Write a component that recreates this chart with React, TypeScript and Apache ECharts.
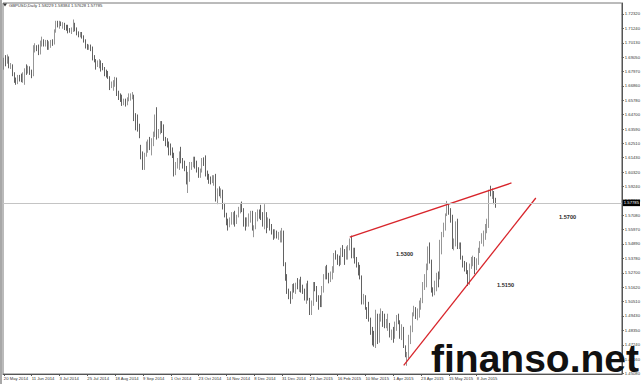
import React, { useEffect, useRef } from 'react';
import * as echarts from 'echarts';

const W = 643;
const H = 384;
const FONT = '"Liberation Sans", Arial, sans-serif';

// GBPUSD daily bars, one list per month: [day, open, close, low, high]
const MAY_2014 = [
  [20, 1.6835, 1.6880, 1.6810, 1.6900], [21, 1.6880, 1.6870, 1.6835, 1.6920], [22, 1.6870, 1.6900, 1.6855, 1.6925],
  [23, 1.6900, 1.6835, 1.6820, 1.6910], [26, 1.6835, 1.6840, 1.6815, 1.6860], [27, 1.6840, 1.6780, 1.6760, 1.6850],
  [28, 1.6780, 1.6730, 1.6710, 1.6790], [29, 1.6730, 1.6720, 1.6695, 1.6750], [30, 1.6720, 1.6750, 1.6700, 1.6770],
];
const JUN_2014 = [
  [2, 1.6750, 1.6740, 1.6720, 1.6770], [3, 1.6740, 1.6730, 1.6715, 1.6780], [4, 1.6730, 1.6770, 1.6710, 1.6790],
  [5, 1.6770, 1.6805, 1.6695, 1.6820], [6, 1.6805, 1.6790, 1.6770, 1.6850], [9, 1.6790, 1.6820, 1.6780, 1.6840],
  [10, 1.6820, 1.6780, 1.6770, 1.6835], [11, 1.6780, 1.6770, 1.6745, 1.6810], [12, 1.6770, 1.6970, 1.6760, 1.6995],
  [13, 1.6970, 1.6975, 1.6940, 1.7010], [16, 1.6975, 1.6970, 1.6950, 1.6995], [17, 1.6970, 1.6965, 1.6920, 1.7000],
  [18, 1.6965, 1.7010, 1.6925, 1.7030], [19, 1.7010, 1.7020, 1.6985, 1.7060], [20, 1.7020, 1.7005, 1.6985, 1.7040],
  [23, 1.7005, 1.7020, 1.6985, 1.7035], [24, 1.7020, 1.6990, 1.6960, 1.7035], [25, 1.6990, 1.6990, 1.6960, 1.7025],
  [26, 1.6990, 1.7020, 1.6975, 1.7035], [27, 1.7020, 1.7010, 1.6990, 1.7040], [30, 1.7010, 1.7105, 1.7000, 1.7115],
];
const JUL_2014 = [
  [1, 1.7105, 1.7160, 1.7090, 1.7180], [2, 1.7160, 1.7150, 1.7130, 1.7180], [3, 1.7150, 1.7160, 1.7120, 1.7180],
  [4, 1.7160, 1.7155, 1.7140, 1.7175], [7, 1.7155, 1.7155, 1.7120, 1.7170], [8, 1.7155, 1.7140, 1.7110, 1.7165],
  [9, 1.7140, 1.7130, 1.7105, 1.7150], [10, 1.7130, 1.7115, 1.7085, 1.7150], [11, 1.7115, 1.7110, 1.7090, 1.7125],
  [14, 1.7110, 1.7110, 1.7080, 1.7130], [15, 1.7110, 1.7135, 1.7095, 1.7190], [16, 1.7135, 1.7115, 1.7100, 1.7165],
  [17, 1.7115, 1.7090, 1.7070, 1.7130], [18, 1.7090, 1.7080, 1.7055, 1.7100], [21, 1.7080, 1.7080, 1.7055, 1.7095],
  [22, 1.7080, 1.7060, 1.7045, 1.7095], [23, 1.7060, 1.7030, 1.7015, 1.7070], [24, 1.7030, 1.6985, 1.6970, 1.7040],
  [25, 1.6985, 1.6975, 1.6960, 1.7005], [28, 1.6975, 1.6985, 1.6960, 1.7000], [29, 1.6985, 1.6970, 1.6950, 1.7000],
  [30, 1.6970, 1.6905, 1.6880, 1.6985], [31, 1.6905, 1.6880, 1.6865, 1.6920],
];
const AUG_2014 = [
  [1, 1.6880, 1.6835, 1.6810, 1.6890], [4, 1.6835, 1.6865, 1.6830, 1.6880], [5, 1.6865, 1.6875, 1.6820, 1.6890],
  [6, 1.6875, 1.6845, 1.6795, 1.6880], [7, 1.6845, 1.6820, 1.6805, 1.6860], [8, 1.6820, 1.6780, 1.6760, 1.6830],
  [11, 1.6780, 1.6770, 1.6750, 1.6810], [12, 1.6770, 1.6750, 1.6740, 1.6800], [13, 1.6750, 1.6680, 1.6655, 1.6760],
  [14, 1.6680, 1.6700, 1.6670, 1.6720], [15, 1.6700, 1.6700, 1.6650, 1.6730], [18, 1.6700, 1.6740, 1.6680, 1.6755],
  [19, 1.6740, 1.6630, 1.6610, 1.6750], [20, 1.6630, 1.6605, 1.6580, 1.6650], [21, 1.6605, 1.6600, 1.6565, 1.6630],
  [22, 1.6600, 1.6560, 1.6535, 1.6620], [25, 1.6560, 1.6570, 1.6540, 1.6590], [26, 1.6570, 1.6555, 1.6530, 1.6590],
  [27, 1.6555, 1.6585, 1.6540, 1.6600], [28, 1.6585, 1.6600, 1.6570, 1.6630], [29, 1.6600, 1.6600, 1.6575, 1.6630],
];
const SEP_2014 = [
  [1, 1.6600, 1.6605, 1.6585, 1.6640], [2, 1.6605, 1.6440, 1.6420, 1.6620], [3, 1.6440, 1.6430, 1.6350, 1.6480],
  [4, 1.6430, 1.6365, 1.6340, 1.6470], [5, 1.6365, 1.6310, 1.6290, 1.6400], [8, 1.6180, 1.6160, 1.6130, 1.6240],
  [9, 1.6160, 1.6110, 1.6050, 1.6190], [10, 1.6110, 1.6160, 1.6050, 1.6180], [11, 1.6160, 1.6240, 1.6150, 1.6265],
  [12, 1.6240, 1.6270, 1.6180, 1.6280], [15, 1.6270, 1.6240, 1.6200, 1.6300], [16, 1.6240, 1.6270, 1.6160, 1.6290],
  [17, 1.6270, 1.6320, 1.6230, 1.6340], [18, 1.6320, 1.6390, 1.6300, 1.6470], [19, 1.6390, 1.6300, 1.6280, 1.6525],
  [22, 1.6300, 1.6340, 1.6290, 1.6360], [23, 1.6340, 1.6405, 1.6320, 1.6420], [24, 1.6405, 1.6385, 1.6330, 1.6420],
  [25, 1.6385, 1.6285, 1.6270, 1.6395], [26, 1.6285, 1.6260, 1.6230, 1.6300], [29, 1.6260, 1.6240, 1.6220, 1.6290],
  [30, 1.6240, 1.6210, 1.6160, 1.6265],
];
const OCT_2014 = [
  [1, 1.6210, 1.6190, 1.6160, 1.6250], [2, 1.6190, 1.6160, 1.6140, 1.6220], [3, 1.6160, 1.6020, 1.6000, 1.6180],
  [6, 1.6020, 1.6090, 1.6010, 1.6110], [7, 1.6090, 1.6110, 1.6060, 1.6140], [8, 1.6110, 1.6170, 1.6050, 1.6190],
  [9, 1.6170, 1.6120, 1.6100, 1.6225], [10, 1.6120, 1.6090, 1.6060, 1.6140], [13, 1.6090, 1.6070, 1.6040, 1.6120],
  [14, 1.6070, 1.5970, 1.5940, 1.6080], [15, 1.5970, 1.5970, 1.5875, 1.6035], [16, 1.5970, 1.6080, 1.5960, 1.6110],
  [17, 1.6080, 1.6090, 1.6050, 1.6110], [20, 1.6090, 1.6130, 1.6070, 1.6150], [21, 1.6130, 1.6085, 1.6060, 1.6150],
  [22, 1.6085, 1.6060, 1.6030, 1.6120], [23, 1.6060, 1.6005, 1.5990, 1.6070], [24, 1.6005, 1.6040, 1.5990, 1.6060],
  [27, 1.6040, 1.6125, 1.6030, 1.6140], [28, 1.6125, 1.6120, 1.6080, 1.6145], [29, 1.6120, 1.6020, 1.6000, 1.6160],
  [30, 1.6020, 1.6000, 1.5975, 1.6045], [31, 1.6000, 1.5990, 1.5945, 1.6020],
];
const NOV_2014 = [
  [3, 1.5990, 1.5960, 1.5940, 1.6000], [4, 1.5960, 1.5990, 1.5950, 1.6010], [5, 1.5990, 1.5990, 1.5930, 1.6010],
  [6, 1.5990, 1.5825, 1.5810, 1.6020], [7, 1.5825, 1.5900, 1.5790, 1.5910], [10, 1.5900, 1.5860, 1.5850, 1.5925],
  [11, 1.5860, 1.5900, 1.5835, 1.5910], [12, 1.5900, 1.5780, 1.5750, 1.5900], [13, 1.5780, 1.5705, 1.5690, 1.5800],
  [14, 1.5705, 1.5650, 1.5630, 1.5725], [17, 1.5650, 1.5640, 1.5590, 1.5680], [18, 1.5640, 1.5655, 1.5615, 1.5690],
  [19, 1.5655, 1.5710, 1.5635, 1.5730], [20, 1.5710, 1.5720, 1.5635, 1.5730], [21, 1.5720, 1.5650, 1.5620, 1.5740],
  [24, 1.5650, 1.5700, 1.5640, 1.5710], [25, 1.5700, 1.5760, 1.5690, 1.5770], [26, 1.5760, 1.5790, 1.5720, 1.5800],
  [27, 1.5790, 1.5750, 1.5730, 1.5810], [28, 1.5750, 1.5640, 1.5620, 1.5760],
];
const DEC_2014 = [
  [1, 1.5640, 1.5630, 1.5590, 1.5690], [2, 1.5630, 1.5660, 1.5620, 1.5690], [3, 1.5660, 1.5700, 1.5620, 1.5720],
  [4, 1.5700, 1.5710, 1.5650, 1.5740], [5, 1.5710, 1.5590, 1.5590, 1.5740], [8, 1.5590, 1.5610, 1.5540, 1.5630],
  [9, 1.5610, 1.5690, 1.5600, 1.5730], [10, 1.5690, 1.5720, 1.5660, 1.5750], [11, 1.5720, 1.5710, 1.5680, 1.5750],
  [12, 1.5710, 1.5700, 1.5670, 1.5785], [15, 1.5700, 1.5640, 1.5620, 1.5730], [16, 1.5640, 1.5720, 1.5600, 1.5790],
  [17, 1.5720, 1.5620, 1.5570, 1.5730], [18, 1.5620, 1.5660, 1.5610, 1.5690], [19, 1.5660, 1.5630, 1.5590, 1.5680],
  [22, 1.5630, 1.5580, 1.5560, 1.5640], [23, 1.5580, 1.5550, 1.5520, 1.5600], [24, 1.5550, 1.5580, 1.5530, 1.5600],
  [26, 1.5580, 1.5540, 1.5530, 1.5590], [29, 1.5540, 1.5550, 1.5520, 1.5580], [30, 1.5550, 1.5550, 1.5500, 1.5590],
  [31, 1.5550, 1.5575, 1.5500, 1.5610],
];
const JAN_2015 = [
  [2, 1.5575, 1.5330, 1.5320, 1.5590], [5, 1.5330, 1.5230, 1.5210, 1.5350], [6, 1.5230, 1.5130, 1.5110, 1.5260],
  [7, 1.5130, 1.5090, 1.5070, 1.5150], [8, 1.5090, 1.5085, 1.5035, 1.5130], [9, 1.5085, 1.5160, 1.5070, 1.5185],
  [12, 1.5160, 1.5140, 1.5120, 1.5190], [13, 1.5140, 1.5180, 1.5110, 1.5195], [14, 1.5180, 1.5170, 1.5145, 1.5230],
  [15, 1.5170, 1.5200, 1.5125, 1.5220], [16, 1.5200, 1.5150, 1.5120, 1.5240], [19, 1.5150, 1.5140, 1.5110, 1.5180],
  [20, 1.5140, 1.5090, 1.5060, 1.5150], [21, 1.5090, 1.5180, 1.5035, 1.5190], [22, 1.5180, 1.5070, 1.5060, 1.5210],
  [23, 1.5070, 1.4960, 1.4950, 1.5080], [26, 1.4960, 1.5030, 1.4950, 1.5060], [27, 1.5030, 1.5170, 1.5020, 1.5200],
  [28, 1.5170, 1.5150, 1.5130, 1.5200], [29, 1.5150, 1.5080, 1.5050, 1.5170], [30, 1.5080, 1.5060, 1.4990, 1.5100],
];
const FEB_2015 = [
  [2, 1.5060, 1.5030, 1.5010, 1.5100], [3, 1.5030, 1.5150, 1.5010, 1.5170], [4, 1.5150, 1.5240, 1.5120, 1.5260],
  [5, 1.5240, 1.5300, 1.5220, 1.5320], [6, 1.5300, 1.5240, 1.5220, 1.5330], [9, 1.5240, 1.5230, 1.5190, 1.5270],
  [10, 1.5230, 1.5250, 1.5200, 1.5280], [11, 1.5250, 1.5300, 1.5220, 1.5320], [12, 1.5300, 1.5400, 1.5270, 1.5420],
  [13, 1.5400, 1.5390, 1.5370, 1.5440], [16, 1.5390, 1.5360, 1.5330, 1.5410], [17, 1.5360, 1.5350, 1.5320, 1.5400],
  [18, 1.5350, 1.5440, 1.5330, 1.5460], [19, 1.5440, 1.5420, 1.5390, 1.5480], [20, 1.5420, 1.5380, 1.5330, 1.5450],
  [23, 1.5380, 1.5440, 1.5370, 1.5470], [24, 1.5440, 1.5450, 1.5370, 1.5480], [25, 1.5450, 1.5490, 1.5440, 1.5530],
  [26, 1.5490, 1.5400, 1.5380, 1.5552], [27, 1.5400, 1.5430, 1.5380, 1.5460],
];
const MAR_2015 = [
  [2, 1.5430, 1.5370, 1.5340, 1.5460], [3, 1.5370, 1.5340, 1.5310, 1.5390], [4, 1.5340, 1.5270, 1.5250, 1.5350],
  [5, 1.5270, 1.5230, 1.5220, 1.5330], [6, 1.5230, 1.5050, 1.5030, 1.5250], [9, 1.5050, 1.5080, 1.5030, 1.5110],
  [10, 1.5080, 1.5000, 1.4990, 1.5100], [11, 1.5000, 1.4980, 1.4920, 1.5010], [12, 1.4980, 1.4920, 1.4900, 1.5050],
  [13, 1.4920, 1.4830, 1.4800, 1.4930], [16, 1.4830, 1.4800, 1.4720, 1.4860], [17, 1.4800, 1.4790, 1.4710, 1.4830],
  [18, 1.4790, 1.4930, 1.4700, 1.4990], [19, 1.4930, 1.4750, 1.4730, 1.4960], [20, 1.4750, 1.4920, 1.4740, 1.4960],
  [23, 1.4920, 1.4960, 1.4900, 1.5000], [24, 1.4960, 1.4910, 1.4860, 1.4980], [25, 1.4910, 1.4880, 1.4850, 1.4960],
  [26, 1.4880, 1.4880, 1.4850, 1.4920], [27, 1.4880, 1.4885, 1.4830, 1.4960], [30, 1.4885, 1.4790, 1.4780, 1.4890],
  [31, 1.4790, 1.4830, 1.4760, 1.4840],
];
const APR_2015 = [
  [1, 1.4830, 1.4780, 1.4740, 1.4860], [2, 1.4780, 1.4870, 1.4770, 1.4900], [3, 1.4870, 1.4920, 1.4830, 1.4950],
  [6, 1.4920, 1.4900, 1.4880, 1.4960], [7, 1.4900, 1.4780, 1.4770, 1.4910], [8, 1.4780, 1.4840, 1.4760, 1.4880],
  [9, 1.4840, 1.4710, 1.4700, 1.4860], [10, 1.4710, 1.4630, 1.4630, 1.4720], [13, 1.4630, 1.4630, 1.4565, 1.4670],
  [14, 1.4630, 1.4790, 1.4620, 1.4800], [15, 1.4790, 1.4830, 1.4730, 1.4870], [16, 1.4830, 1.4960, 1.4820, 1.4970],
  [17, 1.4960, 1.4990, 1.4940, 1.5020], [20, 1.4990, 1.4930, 1.4920, 1.5010], [21, 1.4930, 1.4970, 1.4910, 1.5000],
  [22, 1.4970, 1.5000, 1.4930, 1.5060], [23, 1.5000, 1.5050, 1.4990, 1.5080], [24, 1.5050, 1.5180, 1.5040, 1.5200],
  [27, 1.5180, 1.5210, 1.5140, 1.5260], [28, 1.5210, 1.5310, 1.5160, 1.5340], [29, 1.5310, 1.5430, 1.5290, 1.5470],
  [30, 1.5430, 1.5350, 1.5340, 1.5500],
];
const MAY_2015 = [
  [1, 1.5350, 1.5140, 1.5120, 1.5370], [4, 1.5140, 1.5120, 1.5090, 1.5160], [5, 1.5120, 1.5150, 1.5100, 1.5210],
  [6, 1.5150, 1.5250, 1.5130, 1.5270], [7, 1.5250, 1.5230, 1.5160, 1.5280], [8, 1.5230, 1.5450, 1.5220, 1.5520],
  [11, 1.5450, 1.5570, 1.5410, 1.5580], [12, 1.5570, 1.5640, 1.5540, 1.5650], [13, 1.5640, 1.5710, 1.5590, 1.5720],
  [14, 1.5710, 1.5740, 1.5700, 1.5815], [15, 1.5740, 1.5730, 1.5710, 1.5790], [18, 1.5730, 1.5700, 1.5650, 1.5760],
  [19, 1.5700, 1.5460, 1.5450, 1.5710], [20, 1.5460, 1.5490, 1.5440, 1.5530], [21, 1.5490, 1.5650, 1.5470, 1.5660],
  [22, 1.5650, 1.5470, 1.5450, 1.5680], [25, 1.5470, 1.5490, 1.5450, 1.5500], [26, 1.5490, 1.5380, 1.5370, 1.5500],
  [27, 1.5380, 1.5330, 1.5310, 1.5400], [28, 1.5330, 1.5310, 1.5280, 1.5360], [29, 1.5310, 1.5280, 1.5260, 1.5350],
];
const JUN_2015 = [
  [1, 1.5280, 1.5240, 1.5170, 1.5290], [2, 1.5240, 1.5330, 1.5180, 1.5340], [3, 1.5330, 1.5350, 1.5300, 1.5390],
  [4, 1.5350, 1.5370, 1.5320, 1.5400], [5, 1.5370, 1.5310, 1.5260, 1.5390], [8, 1.5310, 1.5370, 1.5290, 1.5380],
  [9, 1.5370, 1.5450, 1.5330, 1.5460], [10, 1.5450, 1.5500, 1.5420, 1.5510], [11, 1.5500, 1.5530, 1.5490, 1.5570],
  [12, 1.5530, 1.5580, 1.5470, 1.5590], [15, 1.5580, 1.5630, 1.5520, 1.5640], [16, 1.5630, 1.5660, 1.5570, 1.5680],
  [17, 1.5660, 1.5890, 1.5610, 1.5900], [18, 1.5890, 1.5870, 1.5850, 1.5930], [19, 1.5870, 1.5880, 1.5830, 1.5910],
  [22, 1.5880, 1.5823, 1.5790, 1.5890], [23, 1.58229, 1.57785, 1.57628, 1.58384],
];

const MONTHS: [string, number[][]][] = [
  ['May 2014', MAY_2014], ['Jun 2014', JUN_2014], ['Jul 2014', JUL_2014], ['Aug 2014', AUG_2014],
  ['Sep 2014', SEP_2014], ['Oct 2014', OCT_2014], ['Nov 2014', NOV_2014], ['Dec 2014', DEC_2014],
  ['Jan 2015', JAN_2015], ['Feb 2015', FEB_2015], ['Mar 2015', MAR_2015], ['Apr 2015', APR_2015],
  ['May 2015', MAY_2015], ['Jun 2015', JUN_2015],
];

// price scale labels on the right-hand axis
const PRICE_TICKS = [
  1.4508, 1.4616, 1.4724, 1.4835, 1.4943, 1.5051, 1.5162, 1.5270, 1.5378, 1.5489, 1.5597, 1.5708, 1.5816,
  1.5924, 1.6032, 1.6143, 1.6251, 1.6359, 1.6470, 1.6578, 1.6686, 1.6797, 1.6905, 1.7013, 1.7124, 1.7232,
];

// rising-wedge trend lines: [bar index, price]
const RESISTANCE = [[199, 1.5540], [292, 1.5951]];
const SUPPORT = [[230, 1.4568], [306, 1.5837]];

// level notes written on the chart
const LEVEL_NOTES = ['1.5700', '1.5300', '1.5150'];

const SYMBOL = 'GBPUSD,Daily';
const SLOTS = 356; // bar slots visible across the plot (includes empty space on the right)
const LABEL_STEP = 16;

export default function App() {
  const ref = useRef<HTMLDivElement>(null);

  useEffect(() => {
    if (!ref.current) return;
    const chart = echarts.init(ref.current, null, { renderer: 'svg' });

    const dates: string[] = [];
    const ohlc: number[][] = [];
    MONTHS.forEach(([label, rows]) => {
      rows.forEach((r) => {
        dates.push(`${r[0]} ${label}`);
        ohlc.push([r[1], r[2], r[3], r[4]]);
      });
    });
    const n = dates.length;
    const categories = dates.concat(new Array(Math.max(0, SLOTS - n)).fill(''));
    const last = ohlc[n - 1];
    const headline = `${SYMBOL} ${last[0].toFixed(5)} ${last[3].toFixed(5)} ${last[2].toFixed(5)} ${last[1].toFixed(5)}`;

    const noteStyle = { fontSize: 5.6, fontWeight: 'bold', fill: '#2a2a2a', fontFamily: FONT, verticalAlign: 'middle' };

    chart.setOption({
      animation: false,
      backgroundColor: '#ffffff',
      grid: { left: 3, right: 20, top: 3, bottom: 10, show: true, borderColor: '#777', borderWidth: 1, backgroundColor: 'transparent' },
      xAxis: {
        type: 'category',
        data: categories,
        boundaryGap: true,
        axisLine: { lineStyle: { color: '#555', width: 1 } },
        axisTick: {
          show: true,
          alignWithLabel: true,
          interval: (i: number) => i % LABEL_STEP === 0 && i < n,
          length: 2,
          lineStyle: { color: '#555' },
        },
        axisLabel: {
          interval: LABEL_STEP - 1,
          align: 'left',
          fontSize: 4.2,
          color: '#333',
          margin: 2,
          fontFamily: FONT,
        },
        splitLine: { show: false },
      },
      yAxis: {
        type: 'value',
        position: 'right',
        min: 1.4503,
        max: 1.7315,
        axisLine: { show: true, lineStyle: { color: '#555' } },
        axisTick: { show: true, customValues: PRICE_TICKS, length: 2, lineStyle: { color: '#555' } },
        axisLabel: {
          customValues: PRICE_TICKS,
          formatter: (v: number) => v.toFixed(5),
          fontSize: 4.2,
          color: '#333',
          margin: 3,
          fontFamily: FONT,
        },
        splitLine: { show: false },
      },
      series: [
        {
          type: 'candlestick',
          data: ohlc,
          barWidth: '60%',
          itemStyle: {
            color: '#ffffff',
            color0: '#1e1e1e',
            borderColor: '#6a6a6a',
            borderColor0: '#1e1e1e',
            borderWidth: 0.7,
          },
          markLine: {
            silent: true,
            symbol: 'none',
            data: [{ yAxis: last[1] }],
            lineStyle: { color: '#c4c4c4', width: 1, type: 'solid' },
            label: {
              position: 'end',
              formatter: last[1].toFixed(5),
              color: '#ffffff',
              backgroundColor: '#000000',
              fontSize: 4.2,
              fontFamily: FONT,
              padding: [1.5, 1, 1, 1],
              distance: 1,
            },
          },
          z: 3,
        },
        {
          type: 'line',
          data: RESISTANCE,
          symbol: 'none',
          silent: true,
          lineStyle: { color: '#d8252b', width: 1.3 },
          z: 4,
        },
        {
          type: 'line',
          data: SUPPORT,
          symbol: 'none',
          silent: true,
          lineStyle: { color: '#d8252b', width: 1.3 },
          z: 4,
        },
      ],
      graphic: [
        { type: 'rect', left: 0, top: 0, shape: { x: 0, y: 0, width: 2, height: H }, style: { fill: '#a8a8a8' }, silent: true },
        { type: 'polygon', shape: { points: [[3, 3.5], [7, 3.5], [5, 6.5]] }, style: { fill: '#333' }, silent: true },
        {
          type: 'text', x: 9, y: 5,
          style: { text: headline, fontSize: 4.2, fill: '#333', fontFamily: FONT, verticalAlign: 'middle' },
          silent: true,
        },
        { type: 'text', x: 559, y: 217, style: { text: LEVEL_NOTES[0], ...noteStyle }, silent: true },
        { type: 'text', x: 396, y: 254, style: { text: LEVEL_NOTES[1], ...noteStyle }, silent: true },
        { type: 'text', x: 497, y: 285, style: { text: LEVEL_NOTES[2], ...noteStyle }, silent: true },
        {
          type: 'text', x: 431, y: 358, z: 100,
          style: { text: 'finanso.net', fontSize: 39, fontWeight: 'bold', fill: '#111', fontFamily: FONT, verticalAlign: 'middle' },
          silent: true,
        },
      ],
    });

    return () => chart.dispose();
  }, []);

  return (
    <div
      ref={ref}
      style={{ position: 'fixed', left: 0, top: 0, width: W, height: H, background: '#fff' }}
    />
  );
}
